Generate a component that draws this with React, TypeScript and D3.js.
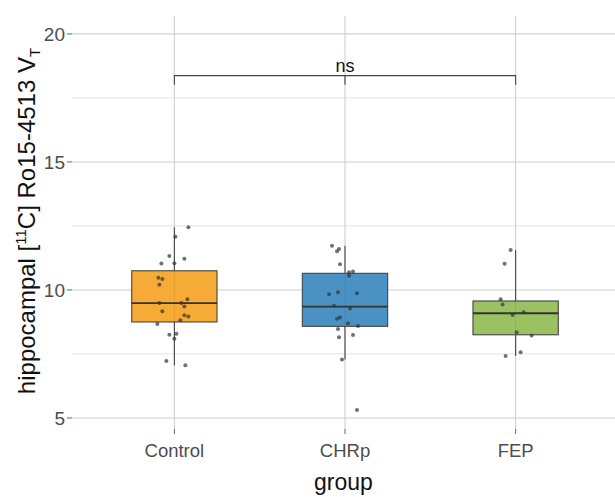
import React from 'react';
import * as d3 from 'd3';

// groups and colours
const groups = ['Control', 'CHRp', 'FEP'];
const fills = ['#F5AB35', '#4A92C4', '#9CC162'];

// box stats: [lowerWhisker, q1, median, q3, upperWhisker]
const boxStats = [
  [7.06, 8.75, 9.49, 10.75, 12.45],
  [7.28, 8.58, 9.35, 10.65, 11.73],
  [7.42, 8.25, 9.09, 9.57, 11.56],
];

// jittered points: value and horizontal offset (in px, as seen)
const controlVals = [12.45, 12.08, 11.33, 11.22, 11.03, 11.04, 10.48, 10.43, 10.2, 9.64, 9.49, 9.49, 9.35, 9.17, 9.01, 8.96, 8.82, 8.67, 8.25, 8.29, 8.09, 7.23, 7.06];
const controlJit = [14, 1, -5, 10, -13, 0, -16, -12, -15, 13, -15, 7, 10, -12, 10, 14, 6, -17, -5, 2, 0, -8, 11];
const chrpVals = [11.73, 11.6, 11.51, 11.0, 10.69, 10.72, 10.56, 9.83, 9.91, 9.87, 9.38, 9.28, 8.88, 8.92, 8.7, 8.59, 8.48, 8.15, 8.24, 7.28, 5.31];
const chrpJit = [-13, -6, -8, -5, 4, 8, 4, -16, -7, 12, -11, 5, -8, -5, 3, 13, -7, -6, 8, -3, 12];
const fepVals = [11.56, 11.02, 9.64, 9.43, 9.13, 9.02, 8.35, 8.22, 7.57, 7.42];
const fepJit = [-5, -11, -15, -13, 8, -3, 1, 16, 5, -10];

const pointVals = [controlVals, chrpVals, fepVals];
const pointJit = [controlJit, chrpJit, fepJit];

const yTicks = [5, 10, 15, 20];
const yMinor = [7.5, 12.5, 17.5];
const sigLevel = 18.37;

const W = 615;
const H = 497;
const margin = { top: 16, right: -3, bottom: 68, left: 72 };

export default function App() {
  const x = d3.scalePoint<string>()
    .domain(groups)
    .range([margin.left, W - margin.right])
    .padding(0.6);
  const step = x.step();
  const y = d3.scaleLinear()
    .domain([4.57, 20.7])
    .range([H - margin.bottom, margin.top]);

  const boxW = step * 0.5;
  const font = 'Liberation Sans, Arial, sans-serif';
  const bracketY = y(sigLevel);
  const bottom = H - margin.bottom;

  return (
    <svg width={W} height={H} style={{ position: 'absolute', left: 0, top: 0 }} fontFamily={font}>
      <rect width={W} height={H} fill="#fff" />
      {/* grid */}
      {yMinor.map((t) => (
        <line key={'m' + t} x1={margin.left} x2={W} y1={y(t)} y2={y(t)} stroke="#dcdcdc" strokeWidth={0.8} />
      ))}
      {yTicks.map((t) => (
        <line key={'g' + t} x1={margin.left} x2={W} y1={y(t)} y2={y(t)} stroke="#d0d0d0" strokeWidth={1.1} />
      ))}
      {groups.map((g) => (
        <line key={'v' + g} x1={x(g)} x2={x(g)} y1={margin.top} y2={bottom} stroke="#d0d0d0" strokeWidth={1.1} />
      ))}

      {/* y axis ticks */}
      {yTicks.map((t) => (
        <g key={'t' + t}>
          <line x1={67} x2={72} y1={y(t)} y2={y(t)} stroke="#666" strokeWidth={1} />
          <text x={65} y={y(t)} dy="0.38em" textAnchor="end" fontSize={19} fill="#4d4d4d">{t}</text>
        </g>
      ))}

      {/* x axis ticks */}
      {groups.map((g) => (
        <line key={'xt' + g} x1={x(g)} x2={x(g)} y1={bottom} y2={bottom + 5} stroke="#666" strokeWidth={1} />
      ))}

      {/* boxes */}
      {groups.map((g, i) => {
        const cx = x(g) as number;
        const [lo, q1, med, q3, hi] = boxStats[i];
        return (
          <g key={'b' + g}>
            <line x1={cx} x2={cx} y1={y(hi)} y2={y(q3)} stroke="#444" strokeWidth={1.1} />
            <line x1={cx} x2={cx} y1={y(q1)} y2={y(lo)} stroke="#444" strokeWidth={1.1} />
            <rect x={cx - boxW / 2} y={y(q3)} width={boxW} height={y(q1) - y(q3)} fill={fills[i]} stroke="#444" strokeWidth={1.1} />
            <line x1={cx} x2={cx} y1={y(q3)} y2={y(q1)} stroke="#000" strokeOpacity={0.08} strokeWidth={1} />
            <line x1={cx - boxW / 2} x2={cx + boxW / 2} y1={y(med)} y2={y(med)} stroke="#333" strokeWidth={1.8} />
          </g>
        );
      })}

      {/* points */}
      {groups.map((g, i) =>
        pointVals[i].map((v, j) => (
          <circle key={g + j} cx={(x(g) as number) + pointJit[i][j]} cy={y(v)} r={2} fill="#333" fillOpacity={0.7} />
        ))
      )}

      {/* significance bracket */}
      <path
        d={`M${x('Control')},${bracketY + 9}V${bracketY}H${x('FEP')}V${bracketY + 9}M${x('CHRp')},${bracketY}V${bracketY + 9}`}
        fill="none"
        stroke="#444"
        strokeWidth={1.1}
      />
      <text x={x('CHRp')} y={bracketY - 4} textAnchor="middle" fontSize={18} fill="#111">ns</text>

      {/* x labels */}
      {groups.map((g) => (
        <text key={'x' + g} x={x(g)} y={457} textAnchor="middle" fontSize={18.5} fill="#4d4d4d">{g}</text>
      ))}
      <text x={(margin.left + W) / 2} y={490} textAnchor="middle" fontSize={23} fill="#111">group</text>

      {/* y title */}
      <text transform="translate(35,221) rotate(-90)" textAnchor="middle" fontSize={24} fill="#111">
        hippocampal [<tspan dy={-9} fontSize={15}>11</tspan><tspan dy={9}>C] Ro15-4513 V</tspan><tspan dy={5} fontSize={15}>T</tspan>
      </text>
    </svg>
  );
}
